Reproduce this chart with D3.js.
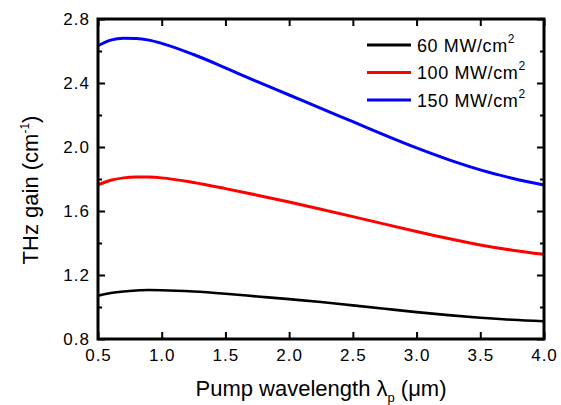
<!DOCTYPE html>
<html>
<head>
<meta charset="utf-8">
<script src="https://cdn.jsdelivr.net/npm/d3@7"></script>
<style>
  body { margin: 0; background: #fff; }
  svg { font-family: "Liberation Sans", Arial, sans-serif; }
  .axis path { display: none; }
  .axis line { stroke: #000; stroke-width: 2; }
  .axis text { font-size: 17px; fill: #000; letter-spacing: 1px; }
  .label { font-size: 22px; fill: #000; }
  .legend text { font-size: 18px; fill: #000; letter-spacing: 0.6px; }
</style>
</head>
<body>
<svg width="561" height="405"></svg>
<script>
var wavelength = [0.5, 0.6, 0.7, 0.8, 0.9, 1.0, 1.25, 1.5, 1.75, 2.0, 2.25, 2.5, 2.75, 3.0, 3.25, 3.5, 3.75, 4.0];
var gain60  = [1.071, 1.087, 1.097, 1.103, 1.106, 1.105, 1.097, 1.083, 1.066, 1.049, 1.031, 1.010, 0.989, 0.968, 0.949, 0.933, 0.920, 0.911];
var gain100 = [1.763, 1.792, 1.807, 1.813, 1.812, 1.807, 1.778, 1.740, 1.699, 1.656, 1.611, 1.565, 1.518, 1.472, 1.428, 1.388, 1.355, 1.329];
var gain150 = [2.633, 2.668, 2.679, 2.678, 2.668, 2.648, 2.578, 2.495, 2.408, 2.325, 2.241, 2.158, 2.074, 1.994, 1.921, 1.857, 1.805, 1.762];

var seriesNames = ["60", "100", "150"];
var seriesColors = ["#000000", "#ff0000", "#0000ff"];
var seriesValues = [gain60, gain100, gain150];

var xTicks = [0.5, 1.0, 1.5, 2.0, 2.5, 3.0, 3.5, 4.0];
var yTicks = [0.8, 1.2, 1.6, 2.0, 2.4, 2.8];
var yMinor = [1.0, 1.4, 1.8, 2.2, 2.6];

var pArea = [98, 19, 544, 339];

var xScale = d3.scaleLinear().domain([0.5, 4.0]).range([pArea[0], pArea[2]]);
var yScale = d3.scaleLinear().domain([0.8, 2.8]).range([pArea[3], pArea[1]]);

var svg = d3.select("svg");
var g = svg.append("g");

// curves
var line = d3.line()
  .x(d => xScale(d[0]))
  .y(d => yScale(d[1]))
  .curve(d3.curveMonotoneX);

seriesValues.forEach(function(vals, i) {
  g.append("path")
    .datum(wavelength.map((w, j) => [w, vals[j]]))
    .attr("fill", "none")
    .attr("stroke", seriesColors[i])
    .attr("stroke-width", i == 0 ? 2.6 : 3)
    .attr("d", line);
});

// axes, ticks inward
g.append("g").attr("class", "axis")
  .attr("transform", `translate(0,${pArea[3]})`)
  .call(d3.axisBottom(xScale).tickValues(xTicks).tickSize(-7).tickPadding(10).tickFormat(d3.format(".1f")));
g.append("g").attr("class", "axis")
  .attr("transform", `translate(0,${pArea[1]})`)
  .call(d3.axisTop(xScale).tickValues(xTicks).tickSize(-7).tickFormat(""));
g.append("g").attr("class", "axis")
  .attr("transform", `translate(${pArea[0]},0)`)
  .call(d3.axisLeft(yScale).tickValues(yTicks).tickSize(-7).tickPadding(8).tickFormat(d3.format(".1f")));
g.append("g").attr("class", "axis")
  .attr("transform", `translate(${pArea[0]},0)`)
  .call(d3.axisLeft(yScale).tickValues(yMinor).tickSize(-4).tickFormat(""));
g.append("g").attr("class", "axis")
  .attr("transform", `translate(${pArea[2]},0)`)
  .call(d3.axisRight(yScale).tickValues(yTicks).tickSize(-7).tickFormat(""));
g.append("g").attr("class", "axis")
  .attr("transform", `translate(${pArea[2]},0)`)
  .call(d3.axisRight(yScale).tickValues(yMinor).tickSize(-4).tickFormat(""));

g.append("rect")
  .attr("x", pArea[0]).attr("y", pArea[1])
  .attr("width", pArea[2] - pArea[0]).attr("height", pArea[3] - pArea[1])
  .attr("fill", "none").attr("stroke", "#000").attr("stroke-width", 3);

// axis titles
var xt = g.append("text").attr("class", "label")
  .attr("x", (pArea[0] + pArea[2]) / 2).attr("y", 396)
  .attr("text-anchor", "middle");
xt.append("tspan").text("Pump wavelength \u03bb");
xt.append("tspan").attr("font-size", "13px").attr("dy", 6).text("p");
xt.append("tspan").attr("dy", -6).text(" (\u03bcm)");

var yt = g.append("text").attr("class", "label")
  .attr("transform", "rotate(-90)")
  .attr("x", -190).attr("y", 38)
  .attr("text-anchor", "middle");
yt.append("tspan").text("THz gain (cm");
yt.append("tspan").attr("font-size", "12px").attr("dy", -9).text("-1");
yt.append("tspan").attr("dy", 9).text(")");

// legend
var legend = g.append("g").attr("class", "legend");
seriesNames.forEach(function(name, i) {
  var ly = 45 + i * 27.5;
  legend.append("line")
    .attr("x1", 367).attr("x2", 411).attr("y1", ly).attr("y2", ly)
    .attr("stroke", seriesColors[i]).attr("stroke-width", 3);
  var t = legend.append("text").attr("x", 417).attr("y", ly + 6.5);
  t.append("tspan").text(name + " MW/cm");
  t.append("tspan").attr("font-size", "12px").attr("dy", -9).text("2");
});
</script>
</body>
</html>
